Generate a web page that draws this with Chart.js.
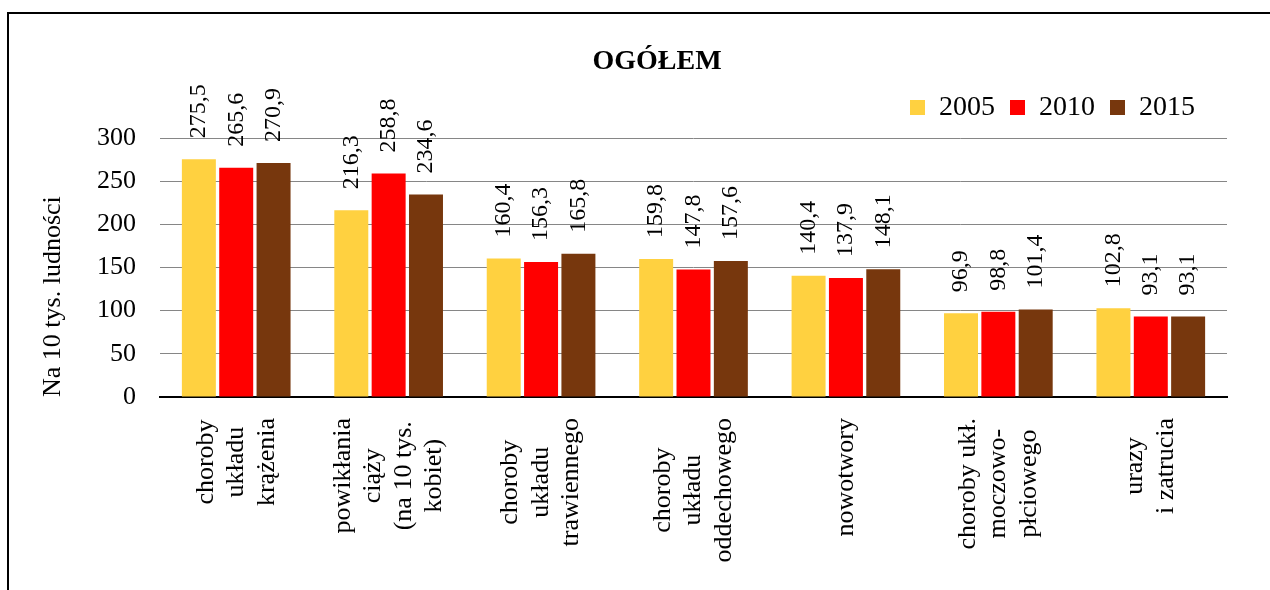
<!DOCTYPE html>
<html>
<head>
<meta charset="utf-8">
<script src="https://cdn.jsdelivr.net/npm/chart.js@4.4.0/dist/chart.umd.min.js"></script>
<style>
  html, body { margin: 0; padding: 0; background: #fff; overflow: hidden; }
  #frame {
    position: absolute; left: 7px; top: 12px;
    border-left: 2px solid #000; border-top: 2px solid #000;
    width: 1296px; height: 600px;
  }
  canvas { display: block; width: 1296px; height: 600px; }
</style>
</head>
<body>
<div id="frame"><canvas id="chart" width="1296" height="600"></canvas></div>
<script>
// Data

const categories = [
    ["choroby", "układu", "krążenia"],
    ["powikłania", "ciąży", "(na 10 tys.", "kobiet)"],
    ["choroby", "układu", "trawiennego"],
    ["choroby", "układu", "oddechowego"],
    ["nowotwory"],
    ["choroby ukł.", "moczowo-", "płciowego"],
    ["urazy", "i zatrucia"]
];
const years = ["2005", "2010", "2015"];
const values2005 = [275.5, 216.3, 160.4, 159.8, 140.4, 96.9, 102.8];
const values2010 = [265.6, 258.8, 156.3, 147.8, 137.9, 98.8, 93.1];
const values2015 = [270.9, 234.6, 165.8, 157.6, 148.1, 101.4, 93.1];
const yTicks = [0, 50, 100, 150, 200, 250, 300];

Chart.defaults.font.family = '"Liberation Serif", "Times New Roman", serif';
Chart.defaults.color = '#000';

const fmt = v => v.toFixed(1).replace('.', ',');

// value labels, rotated, above each bar
const valueLabels = {
    id: 'valueLabels',
    afterDatasetsDraw(chart) {
        const ctx = chart.ctx;
        ctx.save();
        ctx.font = '24px "Liberation Serif"';
        ctx.fillStyle = '#000';
        ctx.textAlign = 'left';
        ctx.textBaseline = 'middle';
        chart.data.datasets.forEach((ds, i) => {
            chart.getDatasetMeta(i).data.forEach((bar, j) => {
                ctx.save();
                ctx.translate(bar.x, bar.y - 21);
                ctx.rotate(-Math.PI / 2);
                ctx.fillText(fmt(ds.data[j]), 0, 0);
                ctx.restore();
            });
        });
        ctx.restore();
    }
};

// category labels: rotated, lines centred on each other, block ends near the axis
const categoryLabels = {
    id: 'categoryLabels',
    afterDraw(chart) {
        const ctx = chart.ctx;
        const x = chart.scales.x;
        const lineH = 30.5;
        ctx.save();
        ctx.font = '26px "Liberation Serif"';
        ctx.fillStyle = '#000';
        ctx.textAlign = 'center';
        ctx.textBaseline = 'middle';
        categories.forEach((lines, i) => {
            const w = Math.max(...lines.map(l => ctx.measureText(l).width));
            const cx = x.getPixelForValue(i);
            lines.forEach((line, k) => {
                ctx.save();
                ctx.translate(cx + (k - (lines.length - 1) / 2) * lineH, x.top + 21 + w / 2);
                ctx.rotate(-Math.PI / 2);
                ctx.fillText(line, 0, 0);
                ctx.restore();
            });
        });
        ctx.restore();
    }
};

// a bit more room under the legend, and pull it left
const legendFit = {
    id: 'legendFit',
    beforeInit(chart) {
        const fit = chart.legend.fit;
        chart.legend.fit = function () {
            fit.call(this);
            this.height += 6.4;
            this.lineWidths[0] += 17;
        };
    }
};

const chart = new Chart(document.getElementById('chart'), {
    type: 'bar',
    data: {
        labels: categories.map(c => c.join(' ')),
        datasets: [
            { label: years[0], data: values2005, backgroundColor: '#FFD140' },
            { label: years[1], data: values2010, backgroundColor: '#FF0000' },
            { label: years[2], data: values2015, backgroundColor: '#77370D' }
        ]
    },
    options: {
        responsive: false,
        animation: false,
        events: [],
        categoryPercentage: 0.735,
        barPercentage: 0.91,
        borderWidth: 0,
        layout: { padding: 0 },
        scales: {
            x: {
                grid: { display: false },
                border: { display: true, color: '#000', width: 2 },
                ticks: { display: false },
                afterFit: s => { s.height = 217; }
            },
            y: {
                min: 0,
                max: 300,
                afterBuildTicks: s => { s.ticks = yTicks.map(v => ({ value: v })); },
                grid: { color: '#868686', lineWidth: 1, drawTicks: false },
                border: { display: false },
                ticks: { font: { size: 26 }, color: '#000', padding: 24 },
                title: {
                    display: true,
                    text: 'Na 10 tys. ludności',
                    align: 'start',
                    font: { size: 26 },
                    color: '#000',
                    padding: { top: 29, bottom: 0 }
                },
                afterFit: s => { s.width = 151; }
            },
            yRight: {
                position: 'right',
                grid: { display: false },
                border: { display: false },
                ticks: { display: false },
                afterFit: s => { s.width = 78; }
            }
        },
        plugins: {
            title: {
                display: true,
                text: 'OGÓŁEM',
                font: { size: 28, weight: 'bold' },
                color: '#000',
                padding: { top: 31, bottom: 0 }
            },
            legend: {
                display: true,
                position: 'top',
                align: 'end',
                fullSize: false,
                labels: {
                    boxWidth: 15,
                    boxHeight: 15,
                    padding: 15,
                    font: { size: 28 },
                    color: '#000'
                }
            },
            tooltip: { enabled: false }
        }
    },
    plugins: [legendFit, valueLabels, categoryLabels]
});
</script>
</body>
</html>
